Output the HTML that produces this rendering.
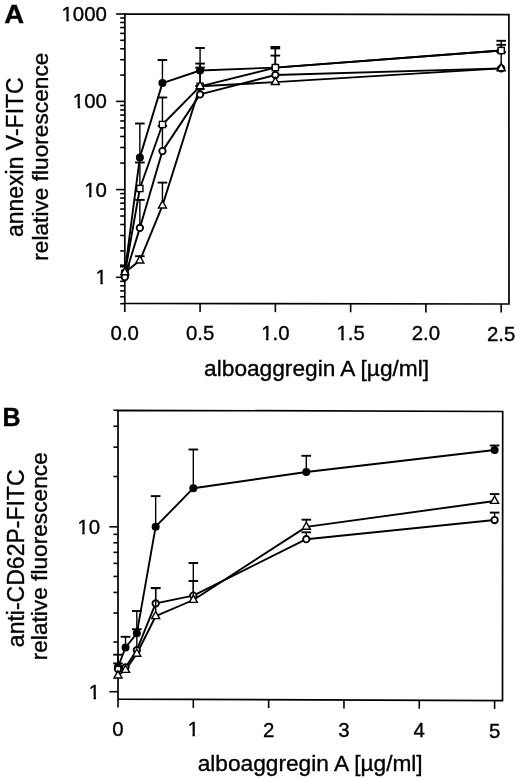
<!DOCTYPE html>
<html><head><meta charset="utf-8"><style>
html,body{margin:0;padding:0;background:#fff;}
svg{display:block;will-change:transform;}
text{font-family:"Liberation Sans",sans-serif;stroke:#000;stroke-width:0.35px;}
</style></head><body>
<svg width="520" height="779" viewBox="0 0 520 779">
<rect x="0" y="0" width="520" height="779" fill="#fff"/>
<g stroke="#000" fill="none">
<polygon points="124.9,14 508.9,14.6 509,304 124.8,303.3" stroke-width="1.7" stroke-linejoin="miter"/>
<line x1="116.1" y1="277.3" x2="124.85" y2="277.3" stroke-width="1.6" stroke-linecap="butt"/>
<line x1="120.2" y1="250.9" x2="124.85" y2="250.9" stroke-width="1.6" stroke-linecap="butt"/>
<line x1="120.2" y1="235.46" x2="124.85" y2="235.46" stroke-width="1.6" stroke-linecap="butt"/>
<line x1="120.2" y1="224.5" x2="124.85" y2="224.5" stroke-width="1.6" stroke-linecap="butt"/>
<line x1="120.2" y1="216" x2="124.85" y2="216" stroke-width="1.6" stroke-linecap="butt"/>
<line x1="120.2" y1="209.06" x2="124.85" y2="209.06" stroke-width="1.6" stroke-linecap="butt"/>
<line x1="120.2" y1="203.18" x2="124.85" y2="203.18" stroke-width="1.6" stroke-linecap="butt"/>
<line x1="120.2" y1="198.1" x2="124.85" y2="198.1" stroke-width="1.6" stroke-linecap="butt"/>
<line x1="120.2" y1="193.61" x2="124.85" y2="193.61" stroke-width="1.6" stroke-linecap="butt"/>
<line x1="116.1" y1="189.6" x2="124.85" y2="189.6" stroke-width="1.6" stroke-linecap="butt"/>
<line x1="120.2" y1="163.05" x2="124.85" y2="163.05" stroke-width="1.6" stroke-linecap="butt"/>
<line x1="120.2" y1="147.52" x2="124.85" y2="147.52" stroke-width="1.6" stroke-linecap="butt"/>
<line x1="120.2" y1="136.5" x2="124.85" y2="136.5" stroke-width="1.6" stroke-linecap="butt"/>
<line x1="120.2" y1="127.95" x2="124.85" y2="127.95" stroke-width="1.6" stroke-linecap="butt"/>
<line x1="120.2" y1="120.97" x2="124.85" y2="120.97" stroke-width="1.6" stroke-linecap="butt"/>
<line x1="120.2" y1="115.06" x2="124.85" y2="115.06" stroke-width="1.6" stroke-linecap="butt"/>
<line x1="120.2" y1="109.95" x2="124.85" y2="109.95" stroke-width="1.6" stroke-linecap="butt"/>
<line x1="120.2" y1="105.44" x2="124.85" y2="105.44" stroke-width="1.6" stroke-linecap="butt"/>
<line x1="116.1" y1="101.4" x2="124.85" y2="101.4" stroke-width="1.6" stroke-linecap="butt"/>
<line x1="120.2" y1="75.09" x2="124.85" y2="75.09" stroke-width="1.6" stroke-linecap="butt"/>
<line x1="120.2" y1="59.7" x2="124.85" y2="59.7" stroke-width="1.6" stroke-linecap="butt"/>
<line x1="120.2" y1="48.78" x2="124.85" y2="48.78" stroke-width="1.6" stroke-linecap="butt"/>
<line x1="120.2" y1="40.31" x2="124.85" y2="40.31" stroke-width="1.6" stroke-linecap="butt"/>
<line x1="120.2" y1="33.39" x2="124.85" y2="33.39" stroke-width="1.6" stroke-linecap="butt"/>
<line x1="120.2" y1="27.54" x2="124.85" y2="27.54" stroke-width="1.6" stroke-linecap="butt"/>
<line x1="120.2" y1="22.47" x2="124.85" y2="22.47" stroke-width="1.6" stroke-linecap="butt"/>
<line x1="120.2" y1="18" x2="124.85" y2="18" stroke-width="1.6" stroke-linecap="butt"/>
<line x1="116.1" y1="14" x2="124.85" y2="14" stroke-width="1.6" stroke-linecap="butt"/>
<line x1="120.2" y1="303.7" x2="124.85" y2="303.7" stroke-width="1.6" stroke-linecap="butt"/>
<line x1="120.2" y1="296.76" x2="124.85" y2="296.76" stroke-width="1.6" stroke-linecap="butt"/>
<line x1="120.2" y1="290.88" x2="124.85" y2="290.88" stroke-width="1.6" stroke-linecap="butt"/>
<line x1="120.2" y1="285.8" x2="124.85" y2="285.8" stroke-width="1.6" stroke-linecap="butt"/>
<line x1="120.2" y1="281.31" x2="124.85" y2="281.31" stroke-width="1.6" stroke-linecap="butt"/>
<line x1="124.8" y1="303.3" x2="124.8" y2="311.9" stroke-width="1.6" stroke-linecap="butt"/>
<line x1="200.08" y1="303.44" x2="200.08" y2="312.04" stroke-width="1.6" stroke-linecap="butt"/>
<line x1="275.36" y1="303.57" x2="275.36" y2="312.17" stroke-width="1.6" stroke-linecap="butt"/>
<line x1="350.64" y1="303.71" x2="350.64" y2="312.31" stroke-width="1.6" stroke-linecap="butt"/>
<line x1="425.92" y1="303.85" x2="425.92" y2="312.45" stroke-width="1.6" stroke-linecap="butt"/>
<line x1="501.2" y1="303.99" x2="501.2" y2="312.59" stroke-width="1.6" stroke-linecap="butt"/>
</g>
<g fill="#000" font-family="Liberation Sans, sans-serif">
<text x="106.9" y="284.3" font-size="20.4" text-anchor="end" font-weight="normal" >1</text>
<text x="106.9" y="196.6" font-size="20.4" text-anchor="end" font-weight="normal" >10</text>
<text x="106.9" y="108.4" font-size="20.4" text-anchor="end" font-weight="normal" >100</text>
<text x="106.9" y="21" font-size="20.4" text-anchor="end" font-weight="normal" >1000</text>
<text x="124.8" y="340" font-size="20.4" text-anchor="middle" font-weight="normal" >0.0</text>
<text x="200.08" y="340.12" font-size="20.4" text-anchor="middle" font-weight="normal" >0.5</text>
<text x="275.36" y="340.24" font-size="20.4" text-anchor="middle" font-weight="normal" >1.0</text>
<text x="350.64" y="340.36" font-size="20.4" text-anchor="middle" font-weight="normal" >1.5</text>
<text x="425.92" y="340.48" font-size="20.4" text-anchor="middle" font-weight="normal" >2.0</text>
<text x="501.2" y="340.6" font-size="20.4" text-anchor="middle" font-weight="normal" >2.5</text>
<text x="316.6" y="375.7" font-size="22.7" text-anchor="middle" font-weight="normal" >alboaggregin A [µg/ml]</text>
<text x="0" y="0" font-size="23.0" text-anchor="middle" font-weight="normal" transform="translate(23.1 157.2) rotate(-90)">annexin V-FITC</text>
<text x="0" y="0" font-size="22.7" text-anchor="middle" font-weight="normal" transform="translate(48 156.7) rotate(-90)">relative fluorescence</text>
<text x="0" y="0" font-size="25" text-anchor="start" font-weight="bold" transform="translate(4.3 22.7) scale(1.1 1)">A</text>
</g>
<rect x="96.41" y="281.4" width="3.93" height="4.6" fill="#fff" stroke="none"/>
<rect x="102.84" y="281.4" width="3.77" height="4.6" fill="#fff" stroke="none"/>
<rect x="85.06" y="193.7" width="3.93" height="4.6" fill="#fff" stroke="none"/>
<rect x="91.49" y="193.7" width="3.77" height="4.6" fill="#fff" stroke="none"/>
<rect x="73.72" y="105.5" width="3.93" height="4.6" fill="#fff" stroke="none"/>
<rect x="80.15" y="105.5" width="3.77" height="4.6" fill="#fff" stroke="none"/>
<rect x="62.37" y="18.1" width="3.93" height="4.6" fill="#fff" stroke="none"/>
<rect x="68.8" y="18.1" width="3.77" height="4.6" fill="#fff" stroke="none"/>
<rect x="262.03" y="337.34" width="3.93" height="4.6" fill="#fff" stroke="none"/>
<rect x="268.46" y="337.34" width="3.77" height="4.6" fill="#fff" stroke="none"/>
<rect x="337.31" y="337.46" width="3.93" height="4.6" fill="#fff" stroke="none"/>
<rect x="343.74" y="337.46" width="3.77" height="4.6" fill="#fff" stroke="none"/>
<g stroke="#000">
<line x1="139.86" y1="260.6" x2="139.86" y2="256.2" stroke-width="1.4" stroke-linecap="butt"/>
<line x1="135.06" y1="256.2" x2="144.66" y2="256.2" stroke-width="1.9" stroke-linecap="butt"/>
<line x1="162.44" y1="205.6" x2="162.44" y2="182.6" stroke-width="1.4" stroke-linecap="butt"/>
<line x1="157.64" y1="182.6" x2="167.24" y2="182.6" stroke-width="1.9" stroke-linecap="butt"/>
<line x1="200.08" y1="86.3" x2="200.08" y2="67.6" stroke-width="1.4" stroke-linecap="butt"/>
<line x1="195.28" y1="67.6" x2="204.88" y2="67.6" stroke-width="1.9" stroke-linecap="butt"/>
<line x1="124.8" y1="277.1" x2="124.8" y2="266.6" stroke-width="1.4" stroke-linecap="butt"/>
<line x1="120" y1="266.6" x2="129.6" y2="266.6" stroke-width="1.9" stroke-linecap="butt"/>
<line x1="139.86" y1="227.9" x2="139.86" y2="199.9" stroke-width="1.4" stroke-linecap="butt"/>
<line x1="135.06" y1="199.9" x2="144.66" y2="199.9" stroke-width="1.9" stroke-linecap="butt"/>
<line x1="162.44" y1="151.1" x2="162.44" y2="125.8" stroke-width="1.4" stroke-linecap="butt"/>
<line x1="157.64" y1="125.8" x2="167.24" y2="125.8" stroke-width="1.9" stroke-linecap="butt"/>
<line x1="200.08" y1="94.4" x2="200.08" y2="86" stroke-width="1.4" stroke-linecap="butt"/>
<line x1="195.28" y1="86" x2="204.88" y2="86" stroke-width="1.9" stroke-linecap="butt"/>
<line x1="275.36" y1="75" x2="275.36" y2="55.6" stroke-width="1.4" stroke-linecap="butt"/>
<line x1="270.56" y1="55.6" x2="280.16" y2="55.6" stroke-width="1.9" stroke-linecap="butt"/>
<line x1="501.2" y1="68.4" x2="501.2" y2="52.2" stroke-width="1.4" stroke-linecap="butt"/>
<line x1="496.4" y1="52.2" x2="506" y2="52.2" stroke-width="1.9" stroke-linecap="butt"/>
<line x1="124.8" y1="273.8" x2="124.8" y2="265.6" stroke-width="1.4" stroke-linecap="butt"/>
<line x1="120" y1="265.6" x2="129.6" y2="265.6" stroke-width="1.9" stroke-linecap="butt"/>
<line x1="139.86" y1="188.5" x2="139.86" y2="162.5" stroke-width="1.4" stroke-linecap="butt"/>
<line x1="135.06" y1="162.5" x2="144.66" y2="162.5" stroke-width="1.9" stroke-linecap="butt"/>
<line x1="162.44" y1="124.5" x2="162.44" y2="97.5" stroke-width="1.4" stroke-linecap="butt"/>
<line x1="157.64" y1="97.5" x2="167.24" y2="97.5" stroke-width="1.9" stroke-linecap="butt"/>
<line x1="200.08" y1="86.3" x2="200.08" y2="63.6" stroke-width="1.4" stroke-linecap="butt"/>
<line x1="195.28" y1="63.6" x2="204.88" y2="63.6" stroke-width="1.9" stroke-linecap="butt"/>
<line x1="275.36" y1="67.6" x2="275.36" y2="48.4" stroke-width="1.4" stroke-linecap="butt"/>
<line x1="270.56" y1="48.4" x2="280.16" y2="48.4" stroke-width="1.9" stroke-linecap="butt"/>
<line x1="501.2" y1="50.5" x2="501.2" y2="44.8" stroke-width="1.4" stroke-linecap="butt"/>
<line x1="496.4" y1="44.8" x2="506" y2="44.8" stroke-width="1.9" stroke-linecap="butt"/>
<line x1="124.8" y1="272.5" x2="124.8" y2="265.6" stroke-width="1.4" stroke-linecap="butt"/>
<line x1="120" y1="265.6" x2="129.6" y2="265.6" stroke-width="1.9" stroke-linecap="butt"/>
<line x1="139.86" y1="157.4" x2="139.86" y2="123.5" stroke-width="1.4" stroke-linecap="butt"/>
<line x1="135.06" y1="123.5" x2="144.66" y2="123.5" stroke-width="1.9" stroke-linecap="butt"/>
<line x1="162.44" y1="83.1" x2="162.44" y2="60" stroke-width="1.4" stroke-linecap="butt"/>
<line x1="157.64" y1="60" x2="167.24" y2="60" stroke-width="1.9" stroke-linecap="butt"/>
<line x1="200.08" y1="70.5" x2="200.08" y2="48" stroke-width="1.4" stroke-linecap="butt"/>
<line x1="195.28" y1="48" x2="204.88" y2="48" stroke-width="1.9" stroke-linecap="butt"/>
<line x1="275.36" y1="67.6" x2="275.36" y2="47" stroke-width="1.4" stroke-linecap="butt"/>
<line x1="270.56" y1="47" x2="280.16" y2="47" stroke-width="1.9" stroke-linecap="butt"/>
<line x1="501.2" y1="50.5" x2="501.2" y2="40.8" stroke-width="1.4" stroke-linecap="butt"/>
<line x1="496.4" y1="40.8" x2="506" y2="40.8" stroke-width="1.9" stroke-linecap="butt"/>
<path d="M124.8 272.4L139.86 260.6L162.44 205.6L200.08 86.3L275.36 82.1L501.2 68.4" fill="none" stroke="#000" stroke-width="1.9" stroke-linejoin="round"/>
<path d="M124.8 277.1L139.86 227.9L162.44 151.1L200.08 94.4L275.36 75L501.2 68.4" fill="none" stroke="#000" stroke-width="1.9" stroke-linejoin="round"/>
<path d="M124.8 273.8L139.86 188.5L162.44 124.5L200.08 86.3L275.36 67.6L501.2 50.5" fill="none" stroke="#000" stroke-width="1.9" stroke-linejoin="round"/>
<path d="M124.8 272.5L139.86 157.4L162.44 83.1L200.08 70.5L275.36 67.6L501.2 50.5" fill="none" stroke="#000" stroke-width="1.9" stroke-linejoin="round"/>
<circle cx="124.8" cy="272.5" r="4.0" fill="#000" stroke="none"/>
<circle cx="139.86" cy="157.4" r="4.0" fill="#000" stroke="none"/>
<circle cx="162.44" cy="83.1" r="4.0" fill="#000" stroke="none"/>
<circle cx="200.08" cy="70.5" r="4.0" fill="#000" stroke="none"/>
<circle cx="275.36" cy="67.6" r="4.0" fill="#000" stroke="none"/>
<circle cx="501.2" cy="50.5" r="4.0" fill="#000" stroke="none"/>
<rect x="121.7" y="270.7" width="6.2" height="6.2" fill="#fff" stroke="#000" stroke-width="1.4"/>
<rect x="136.76" y="185.4" width="6.2" height="6.2" fill="#fff" stroke="#000" stroke-width="1.4"/>
<rect x="159.34" y="121.4" width="6.2" height="6.2" fill="#fff" stroke="#000" stroke-width="1.4"/>
<rect x="196.98" y="83.2" width="6.2" height="6.2" fill="#fff" stroke="#000" stroke-width="1.4"/>
<rect x="272.26" y="64.5" width="6.2" height="6.2" fill="#fff" stroke="#000" stroke-width="1.4"/>
<rect x="498.1" y="47.4" width="6.2" height="6.2" fill="#fff" stroke="#000" stroke-width="1.4"/>
<circle cx="124.8" cy="277.1" r="3.2" fill="#fff" stroke="#000" stroke-width="1.85"/>
<circle cx="139.86" cy="227.9" r="3.2" fill="#fff" stroke="#000" stroke-width="1.85"/>
<circle cx="162.44" cy="151.1" r="3.2" fill="#fff" stroke="#000" stroke-width="1.85"/>
<circle cx="200.08" cy="94.4" r="3.2" fill="#fff" stroke="#000" stroke-width="1.85"/>
<circle cx="275.36" cy="75" r="3.2" fill="#fff" stroke="#000" stroke-width="1.85"/>
<circle cx="501.2" cy="68.4" r="3.2" fill="#fff" stroke="#000" stroke-width="1.85"/>
<path d="M124.8 267.6L128.8 274.8L120.8 274.8Z" fill="#fff" stroke="#000" stroke-width="1.4" stroke-linejoin="miter"/>
<path d="M139.86 255.8L143.86 263L135.86 263Z" fill="#fff" stroke="#000" stroke-width="1.4" stroke-linejoin="miter"/>
<path d="M162.44 200.8L166.44 208L158.44 208Z" fill="#fff" stroke="#000" stroke-width="1.4" stroke-linejoin="miter"/>
<path d="M200.08 81.5L204.08 88.7L196.08 88.7Z" fill="#fff" stroke="#000" stroke-width="1.4" stroke-linejoin="miter"/>
<path d="M275.36 77.3L279.36 84.5L271.36 84.5Z" fill="#fff" stroke="#000" stroke-width="1.4" stroke-linejoin="miter"/>
<path d="M501.2 63.6L505.2 70.8L497.2 70.8Z" fill="#fff" stroke="#000" stroke-width="1.4" stroke-linejoin="miter"/>
</g>
<g stroke="#000" fill="none">
<polygon points="118,410.3 502.7,411.5 502.5,700.6 118,699.2" stroke-width="1.7" stroke-linejoin="miter"/>
<line x1="109.4" y1="691.7" x2="118" y2="691.7" stroke-width="1.6" stroke-linecap="butt"/>
<line x1="109.4" y1="526.8" x2="118" y2="526.8" stroke-width="1.6" stroke-linecap="butt"/>
<line x1="113.4" y1="642.06" x2="118" y2="642.06" stroke-width="1.6" stroke-linecap="butt"/>
<line x1="113.4" y1="613.02" x2="118" y2="613.02" stroke-width="1.6" stroke-linecap="butt"/>
<line x1="113.4" y1="592.42" x2="118" y2="592.42" stroke-width="1.6" stroke-linecap="butt"/>
<line x1="113.4" y1="576.44" x2="118" y2="576.44" stroke-width="1.6" stroke-linecap="butt"/>
<line x1="113.4" y1="563.38" x2="118" y2="563.38" stroke-width="1.6" stroke-linecap="butt"/>
<line x1="113.4" y1="552.34" x2="118" y2="552.34" stroke-width="1.6" stroke-linecap="butt"/>
<line x1="113.4" y1="542.78" x2="118" y2="542.78" stroke-width="1.6" stroke-linecap="butt"/>
<line x1="113.4" y1="534.35" x2="118" y2="534.35" stroke-width="1.6" stroke-linecap="butt"/>
<line x1="113.4" y1="476.53" x2="118" y2="476.53" stroke-width="1.6" stroke-linecap="butt"/>
<line x1="113.4" y1="447.12" x2="118" y2="447.12" stroke-width="1.6" stroke-linecap="butt"/>
<line x1="113.4" y1="426.26" x2="118" y2="426.26" stroke-width="1.6" stroke-linecap="butt"/>
<line x1="113.4" y1="410.3" x2="118" y2="410.3" stroke-width="1.6" stroke-linecap="butt"/>
<line x1="118" y1="699.2" x2="118" y2="707.6" stroke-width="1.6" stroke-linecap="butt"/>
<line x1="193.32" y1="699.47" x2="193.32" y2="707.87" stroke-width="1.6" stroke-linecap="butt"/>
<line x1="268.64" y1="699.75" x2="268.64" y2="708.15" stroke-width="1.6" stroke-linecap="butt"/>
<line x1="343.96" y1="700.02" x2="343.96" y2="708.42" stroke-width="1.6" stroke-linecap="butt"/>
<line x1="419.28" y1="700.3" x2="419.28" y2="708.7" stroke-width="1.6" stroke-linecap="butt"/>
<line x1="494.6" y1="700.57" x2="494.6" y2="708.97" stroke-width="1.6" stroke-linecap="butt"/>
</g>
<g fill="#000" font-family="Liberation Sans, sans-serif">
<text x="100.1" y="698.7" font-size="20.4" text-anchor="end" font-weight="normal" >1</text>
<text x="100.1" y="533.8" font-size="20.4" text-anchor="end" font-weight="normal" >10</text>
<text x="118" y="736" font-size="20.4" text-anchor="middle" font-weight="normal" >0</text>
<text x="193.32" y="736.3" font-size="20.4" text-anchor="middle" font-weight="normal" >1</text>
<text x="268.64" y="736.6" font-size="20.4" text-anchor="middle" font-weight="normal" >2</text>
<text x="343.96" y="736.9" font-size="20.4" text-anchor="middle" font-weight="normal" >3</text>
<text x="419.28" y="737.2" font-size="20.4" text-anchor="middle" font-weight="normal" >4</text>
<text x="494.6" y="737.5" font-size="20.4" text-anchor="middle" font-weight="normal" >5</text>
<text x="310.2" y="771.3" font-size="22.7" text-anchor="middle" font-weight="normal" >alboaggregin A [µg/ml]</text>
<text x="0" y="0" font-size="23.0" text-anchor="middle" font-weight="normal" transform="translate(23.6 558.3) rotate(-90)">anti-CD62P-FITC</text>
<text x="0" y="0" font-size="22.7" text-anchor="middle" font-weight="normal" transform="translate(47.3 556.3) rotate(-90)">relative fluorescence</text>
<text x="0" y="0" font-size="25" text-anchor="start" font-weight="bold" transform="translate(2.6 425.5)">B</text>
</g>
<rect x="89.61" y="695.8" width="3.93" height="4.6" fill="#fff" stroke="none"/>
<rect x="96.04" y="695.8" width="3.77" height="4.6" fill="#fff" stroke="none"/>
<rect x="78.26" y="530.9" width="3.93" height="4.6" fill="#fff" stroke="none"/>
<rect x="84.69" y="530.9" width="3.77" height="4.6" fill="#fff" stroke="none"/>
<rect x="188.5" y="733.4" width="3.93" height="4.6" fill="#fff" stroke="none"/>
<rect x="194.93" y="733.4" width="3.77" height="4.6" fill="#fff" stroke="none"/>
<g stroke="#000">
<path d="M118 675.6L125.53 670L136.83 653.8L155.66 616.2L193.32 600L306.3 526.9L494.6 501" fill="none" stroke="#000" stroke-width="1.9" stroke-linejoin="round"/>
<path d="M118 669L125.53 667.3L136.83 650.2L155.66 603.4L193.32 595.6L306.3 539.2L494.6 520" fill="none" stroke="#000" stroke-width="1.9" stroke-linejoin="round"/>
<path d="M118 667L125.53 647.5L136.83 633.3L155.66 526.7L193.32 488.2L306.3 472L494.6 450" fill="none" stroke="#000" stroke-width="1.9" stroke-linejoin="round"/>
<circle cx="118" cy="667" r="4.0" fill="#000" stroke="none"/>
<circle cx="125.53" cy="647.5" r="4.0" fill="#000" stroke="none"/>
<circle cx="136.83" cy="633.3" r="4.0" fill="#000" stroke="none"/>
<circle cx="155.66" cy="526.7" r="4.0" fill="#000" stroke="none"/>
<circle cx="193.32" cy="488.2" r="4.0" fill="#000" stroke="none"/>
<circle cx="306.3" cy="472" r="4.0" fill="#000" stroke="none"/>
<circle cx="494.6" cy="450" r="4.0" fill="#000" stroke="none"/>
<circle cx="118" cy="669" r="3.2" fill="#fff" stroke="#000" stroke-width="1.85"/>
<circle cx="125.53" cy="667.3" r="3.2" fill="#fff" stroke="#000" stroke-width="1.85"/>
<circle cx="136.83" cy="650.2" r="3.2" fill="#fff" stroke="#000" stroke-width="1.85"/>
<circle cx="155.66" cy="603.4" r="3.2" fill="#fff" stroke="#000" stroke-width="1.85"/>
<circle cx="193.32" cy="595.6" r="3.2" fill="#fff" stroke="#000" stroke-width="1.85"/>
<circle cx="306.3" cy="539.2" r="3.2" fill="#fff" stroke="#000" stroke-width="1.85"/>
<circle cx="494.6" cy="520" r="3.2" fill="#fff" stroke="#000" stroke-width="1.85"/>
<path d="M118 670.8L122 678L114 678Z" fill="#fff" stroke="#000" stroke-width="1.4" stroke-linejoin="miter"/>
<path d="M125.53 665.2L129.53 672.4L121.53 672.4Z" fill="#fff" stroke="#000" stroke-width="1.4" stroke-linejoin="miter"/>
<path d="M136.83 649L140.83 656.2L132.83 656.2Z" fill="#fff" stroke="#000" stroke-width="1.4" stroke-linejoin="miter"/>
<path d="M155.66 611.4L159.66 618.6L151.66 618.6Z" fill="#fff" stroke="#000" stroke-width="1.4" stroke-linejoin="miter"/>
<path d="M193.32 595.2L197.32 602.4L189.32 602.4Z" fill="#fff" stroke="#000" stroke-width="1.4" stroke-linejoin="miter"/>
<path d="M306.3 522.1L310.3 529.3L302.3 529.3Z" fill="#fff" stroke="#000" stroke-width="1.4" stroke-linejoin="miter"/>
<path d="M494.6 496.2L498.6 503.4L490.6 503.4Z" fill="#fff" stroke="#000" stroke-width="1.4" stroke-linejoin="miter"/>
<line x1="155.66" y1="611.7" x2="155.66" y2="588.2" stroke-width="1.4" stroke-linecap="butt"/>
<line x1="150.86" y1="588.2" x2="160.46" y2="588.2" stroke-width="1.9" stroke-linecap="butt"/>
<line x1="193.32" y1="595.5" x2="193.32" y2="581" stroke-width="1.4" stroke-linecap="butt"/>
<line x1="188.52" y1="581" x2="198.12" y2="581" stroke-width="1.9" stroke-linecap="butt"/>
<line x1="306.3" y1="522.4" x2="306.3" y2="519.7" stroke-width="1.4" stroke-linecap="butt"/>
<line x1="301.5" y1="519.7" x2="311.1" y2="519.7" stroke-width="1.9" stroke-linecap="butt"/>
<line x1="494.6" y1="496.5" x2="494.6" y2="494.1" stroke-width="1.4" stroke-linecap="butt"/>
<line x1="489.8" y1="494.1" x2="499.4" y2="494.1" stroke-width="1.9" stroke-linecap="butt"/>
<line x1="118" y1="665.5" x2="118" y2="663.4" stroke-width="1.4" stroke-linecap="butt"/>
<line x1="113.2" y1="663.4" x2="122.8" y2="663.4" stroke-width="1.9" stroke-linecap="butt"/>
<line x1="136.83" y1="646.7" x2="136.83" y2="629.2" stroke-width="1.4" stroke-linecap="butt"/>
<line x1="132.03" y1="629.2" x2="141.63" y2="629.2" stroke-width="1.9" stroke-linecap="butt"/>
<line x1="155.66" y1="599.9" x2="155.66" y2="588" stroke-width="1.4" stroke-linecap="butt"/>
<line x1="150.86" y1="588" x2="160.46" y2="588" stroke-width="1.9" stroke-linecap="butt"/>
<line x1="193.32" y1="592.1" x2="193.32" y2="563" stroke-width="1.4" stroke-linecap="butt"/>
<line x1="188.52" y1="563" x2="198.12" y2="563" stroke-width="1.9" stroke-linecap="butt"/>
<line x1="306.3" y1="535.7" x2="306.3" y2="532.3" stroke-width="1.4" stroke-linecap="butt"/>
<line x1="301.5" y1="532.3" x2="311.1" y2="532.3" stroke-width="1.9" stroke-linecap="butt"/>
<line x1="494.6" y1="516.5" x2="494.6" y2="512.6" stroke-width="1.4" stroke-linecap="butt"/>
<line x1="489.8" y1="512.6" x2="499.4" y2="512.6" stroke-width="1.9" stroke-linecap="butt"/>
<line x1="118" y1="663.5" x2="118" y2="654.7" stroke-width="1.4" stroke-linecap="butt"/>
<line x1="113.2" y1="654.7" x2="122.8" y2="654.7" stroke-width="1.9" stroke-linecap="butt"/>
<line x1="125.53" y1="644" x2="125.53" y2="636.8" stroke-width="1.4" stroke-linecap="butt"/>
<line x1="120.73" y1="636.8" x2="130.33" y2="636.8" stroke-width="1.9" stroke-linecap="butt"/>
<line x1="136.83" y1="629.8" x2="136.83" y2="611" stroke-width="1.4" stroke-linecap="butt"/>
<line x1="132.03" y1="611" x2="141.63" y2="611" stroke-width="1.9" stroke-linecap="butt"/>
<line x1="155.66" y1="523.2" x2="155.66" y2="496.1" stroke-width="1.4" stroke-linecap="butt"/>
<line x1="150.86" y1="496.1" x2="160.46" y2="496.1" stroke-width="1.9" stroke-linecap="butt"/>
<line x1="193.32" y1="484.7" x2="193.32" y2="449.5" stroke-width="1.4" stroke-linecap="butt"/>
<line x1="188.52" y1="449.5" x2="198.12" y2="449.5" stroke-width="1.9" stroke-linecap="butt"/>
<line x1="306.3" y1="468.5" x2="306.3" y2="455.8" stroke-width="1.4" stroke-linecap="butt"/>
<line x1="301.5" y1="455.8" x2="311.1" y2="455.8" stroke-width="1.9" stroke-linecap="butt"/>
<line x1="494.6" y1="446.5" x2="494.6" y2="445.5" stroke-width="1.4" stroke-linecap="butt"/>
<line x1="489.8" y1="445.5" x2="499.4" y2="445.5" stroke-width="1.9" stroke-linecap="butt"/>
</g>
</svg>
</body></html>
